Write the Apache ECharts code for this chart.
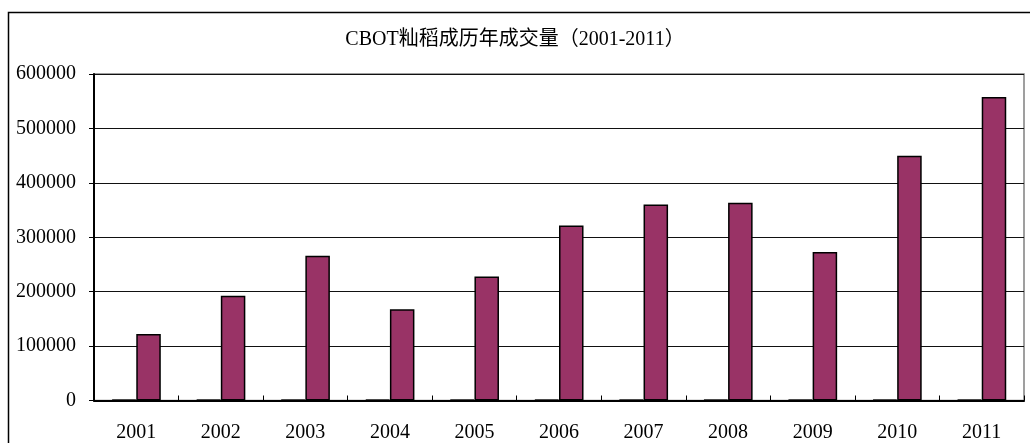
<!DOCTYPE html>
<html><head><meta charset="utf-8">
<script src="https://cdn.jsdelivr.net/npm/echarts@6/dist/echarts.min.js"></script>
<style>html,body{margin:0;padding:0;background:#fff;}#c{width:1030px;height:443px;}</style>
</head><body><div id="c"></div>
<script>
const titleText = 'CBOT籼稻成历年成交量（2001-2011）';
const categories = ['2001','2002','2003','2004','2005','2006','2007','2008','2009','2010','2011'];
const seriesA = [1500,1500,1500,1500,1500,1500,1500,1500,1500,1500,1500];
const seriesB = [122000,192700,266000,167700,227700,321500,360100,363200,273100,449700,557700];
const yTicks = [0,100000,200000,300000,400000,500000,600000];

const chart = echarts.init(document.getElementById('c'), null, {renderer:'canvas'});
const serif = '"Liberation Serif","DejaVu Serif","Noto Sans CJK SC",serif';
chart.setOption({
  animation:false,
  backgroundColor:'#fff',
  title:{text:titleText,left:'center',top:25,textStyle:{fontFamily:'"Liberation Serif","Noto Sans CJK SC",serif',fontSize:20,fontWeight:'normal',color:'#000'}},
  graphic:[{type:'rect',shape:{x:8.5,y:12.5,width:1040,height:450},style:{fill:null,stroke:'#000',lineWidth:1.5},silent:true,z:-1}],
  grid:{left:94,right:6,top:74,bottom:42.5,show:true,borderColor:'#808080',borderWidth:1.5,backgroundColor:'transparent'},
  xAxis:{type:'category',data:categories,boundaryGap:true,
    axisLine:{lineStyle:{color:'#000',width:2}},
    axisTick:{show:true,inside:true,length:5,lineStyle:{color:'#000',width:1}},
    axisLabel:{fontFamily:serif,fontSize:20,color:'#000',margin:22}},
  yAxis:{type:'value',min:yTicks[0],max:yTicks[yTicks.length-1],interval:100000,
    axisLine:{show:true,lineStyle:{color:'#000',width:2}},
    axisTick:{show:true,length:5,lineStyle:{color:'#000',width:1}},
    splitLine:{lineStyle:{color:'#111',width:1}},
    axisLabel:{fontFamily:serif,fontSize:20,color:'#000',margin:18,formatter:v=>String(v)}},
  series:[
    {type:'bar',data:seriesA,barGap:'0%',barCategoryGap:'42%',itemStyle:{color:'#000',borderColor:'#000',borderWidth:1}},
    {type:'bar',data:seriesB,barGap:'0%',barCategoryGap:'42%',itemStyle:{color:'#993366',borderColor:'#000',borderWidth:1.5}}
  ]
});
</script></body></html>
